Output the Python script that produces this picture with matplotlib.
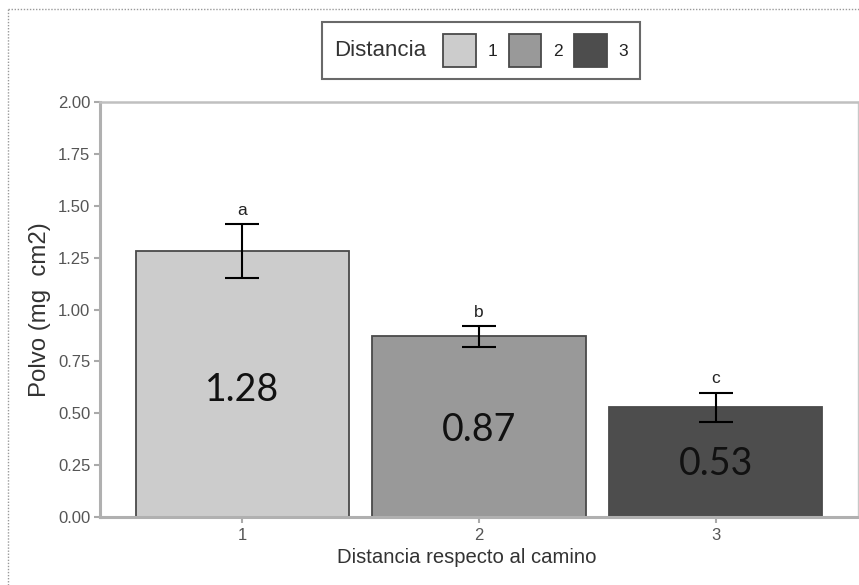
import matplotlib
matplotlib.use("Agg")
import matplotlib.pyplot as plt
from matplotlib.patches import Patch
from matplotlib.lines import Line2D
from matplotlib.offsetbox import HPacker

# ---- data ----
categories = ["1", "2", "3"]
means = [1.28, 0.87, 0.53]
err_low = [0.13, 0.05, 0.07]
err_high = [0.13, 0.05, 0.07]
letters = ["a", "b", "c"]
value_labels = ["1.28", "0.87", "0.53"]
colors = ["#cccccc", "#999999", "#4d4d4d"]
yticks = [0.00, 0.25, 0.50, 0.75, 1.00, 1.25, 1.50, 1.75, 2.00]

plt.rcParams['font.family'] = ['Liberation Sans', 'DejaVu Sans']

fig = plt.figure(figsize=(8.59, 5.85), dpi=100)
fig.patch.set_facecolor("white")
ax = fig.add_axes([100/859, 68/585, 758/859, 415/585])

x = [1, 2, 3]
ax.bar(x, means, width=0.9, color=colors, edgecolor="#4a4a4a", linewidth=1.3, zorder=2)
ax.errorbar(x, means, yerr=[err_low, err_high], fmt="none", ecolor="black",
            elinewidth=1.5, capsize=12.5, capthick=1.5, zorder=3)

for xi, m, hi, lt, vl in zip(x, means, err_high, letters, value_labels):
    ax.text(xi, m + hi + 0.03, lt, ha="center", va="bottom", fontsize=12.5, color="#222222")
    ax.text(xi, m * 0.48, vl, ha="center", va="center", fontsize=27,
            family=["Lato", "DejaVu Sans"], color="#111111", zorder=4)

ax.set_xlim(0.4, 3.6)
ax.set_ylim(0, 2.0)
ax.set_xticks(x)
ax.set_xticklabels(categories)
ax.set_yticks(yticks)
ax.set_yticklabels([f"{t:.2f}" for t in yticks])
ax.tick_params(axis="both", colors="#aaaaaa", labelcolor="#555555", labelsize=12,
               length=4, width=1.5)
ax.tick_params(axis="y", pad=3)
ax.tick_params(axis="x", pad=4)

for s in ["left", "bottom"]:
    ax.spines[s].set_color("#b0b0b0")
    ax.spines[s].set_linewidth(2.2)
ax.spines["top"].set_color("#c0c0c0")
ax.spines["top"].set_linewidth(1.8)
ax.spines["right"].set_color("#c8c8c8")
ax.spines["right"].set_linewidth(1.0)

ax.set_xlabel("Distancia respecto al camino", fontsize=14.6, color="#333333", labelpad=3)
ax.xaxis.set_label_coords((467 - 100) / 758, -0.075)
ax.set_ylabel("Polvo (mg  cm2)", fontsize=17.3, color="#333333", labelpad=5)

# legend
handles = [Patch(facecolor=c, edgecolor="#4a4a4a", linewidth=1.3) for c in colors]
leg = fig.legend(handles, categories, title="Distancia", ncol=3,
                 loc="upper center", bbox_to_anchor=(481/859, 1 - 22/585),
                 borderaxespad=0,
                 fontsize=12.5, title_fontsize=16,
                 handlelength=1.9, handleheight=2.55, handletextpad=0.65,
                 columnspacing=0.65, borderpad=0.7, frameon=True, fancybox=False)
leg.get_frame().set_edgecolor("#444444")
leg.get_frame().set_linewidth(1.5)
leg.get_title().set_color("#333333")
for t in leg.get_texts():
    t.set_color("#222222")
box = leg._legend_box
box.__class__ = HPacker
box.align = "center"
box.sep = 12

# dotted border of the original image
fig.add_artist(Line2D([8/859, 8/859], [0, 1 - 9/585], transform=fig.transFigure,
                      color="#999999", linestyle=(0, (1, 1.2)), linewidth=1))
fig.add_artist(Line2D([8/859, 1], [1 - 9/585, 1 - 9/585], transform=fig.transFigure,
                      color="#999999", linestyle=(0, (1, 1.2)), linewidth=1))

fig.savefig("out.png", dpi=100)
